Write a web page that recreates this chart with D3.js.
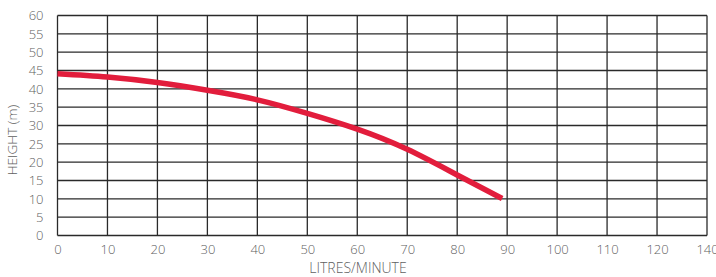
<!DOCTYPE html>
<html><head><meta charset="utf-8">
<script src="https://cdn.jsdelivr.net/npm/d3@7"></script>
<style>
body{margin:0;background:#fff;}
text{font-family:"Open Sans",sans-serif;font-weight:300;fill:#5f5f5f;}
</style></head><body>
<svg id="c" width="716" height="277"></svg>
<script>
// Flow (litres/minute) vs head (m)
const flow = [0, 10, 20, 30, 40, 50, 60, 70, 80, 89];
const height = [44.1, 43.2, 41.7, 39.6, 37.0, 33.3, 29.0, 23.5, 16.5, 10.1];
// x tick positions and their printed labels (last label printed as 140 in the original)
const xTickPos = [0, 10, 20, 30, 40, 50, 60, 70, 80, 90, 100, 110, 120, 130];
const xTickLabels = ["0","10","20","30","40","50","60","70","80","90","100","110","120","140"];
const yTicks = [0, 5, 10, 15, 20, 25, 30, 35, 40, 45, 50, 55, 60];

const svg = d3.select("#c");
const m = {l:57.5, r:9, t:15.5, b:41.5};
const W = 716, H = 277;
const x = d3.scaleLinear().domain([0,130]).range([m.l, W-m.r]);
const y = d3.scaleLinear().domain([0,60]).range([H-m.b, m.t]);

// grid
const g = svg.append("g");
g.selectAll(".vx").data(xTickPos).join("line")
  .attr("x1", d=>x(d)).attr("x2", d=>x(d)).attr("y1", y(0)).attr("y2", y(60))
  .attr("stroke","#2a2a2a").attr("stroke-width",1.3);
g.selectAll(".hy").data(yTicks).join("line")
  .attr("y1", d=>y(d)).attr("y2", d=>y(d)).attr("x1", x(0)).attr("x2", x(130))
  .attr("stroke","#2a2a2a").attr("stroke-width",1.3);

// axes labels
const xAxis = d3.axisBottom(x).tickValues(xTickPos).tickSize(0).tickPadding(9)
  .tickFormat((d,i)=>xTickLabels[i]);
const xg = svg.append("g").attr("transform",`translate(0,${y(0)})`).call(xAxis);
xg.select(".domain").remove();
xg.selectAll("text").style("font-size","13px").style("font-family","'Open Sans',sans-serif").attr("fill","#5f5f5f");

const yAxis = d3.axisLeft(y).tickValues(yTicks).tickSize(0).tickPadding(14);
const yg = svg.append("g").attr("transform",`translate(${x(0)},0)`).call(yAxis);
yg.select(".domain").remove();
yg.selectAll("text").style("font-size","13px").style("font-family","'Open Sans',sans-serif").attr("fill","#5f5f5f");

svg.append("text").attr("x", 358).attr("y", 273).attr("text-anchor","middle")
  .style("font-size","14px").text("LITRES/MINUTE");
svg.append("text").attr("transform","translate(16.5,140) rotate(-90)").attr("text-anchor","middle")
  .style("font-size","13.6px").text("HEIGHT (m)");

// curve
const line = d3.line().x((d,i)=>x(flow[i])).y(d=>y(d)).curve(d3.curveNatural);
svg.append("path").datum(height).attr("d", line).attr("fill","none")
  .attr("stroke","#e21d3c").attr("stroke-width",5.5).attr("stroke-linecap","butt");
</script>
</body></html>
